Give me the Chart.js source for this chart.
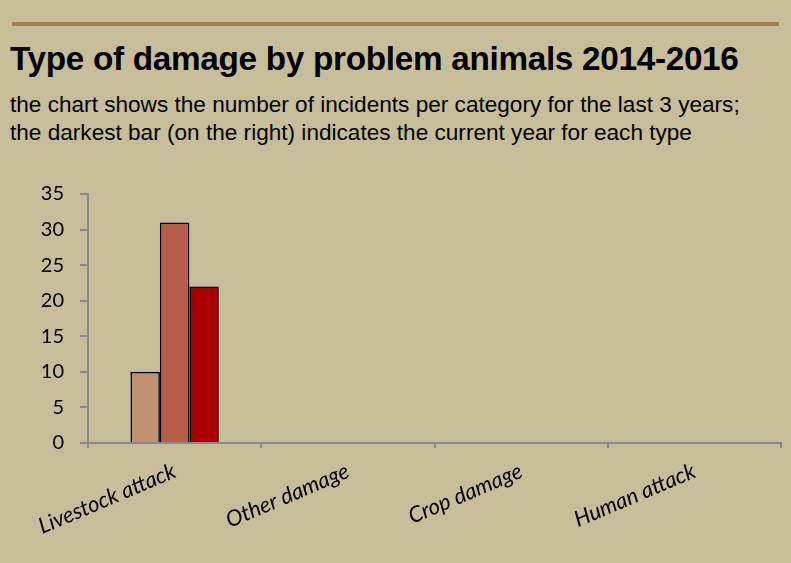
<!DOCTYPE html>
<html>
<head>
<meta charset="utf-8">
<script src="https://cdn.jsdelivr.net/npm/chart.js@4.4.1/dist/chart.umd.min.js"></script>
<style>
  html, body { margin: 0; padding: 0; }
  body { width: 791px; height: 563px; background: #C6BE98; position: relative; overflow: hidden; }
  .rule { position: absolute; left: 12px; top: 22px; width: 767px; height: 4px; background: #A07D55; }
  .title { position: absolute; left: 10px; top: 39px; margin: 0; font: bold 33.3px "Liberation Sans", Arial, sans-serif; line-height: 40px; color: #000; white-space: nowrap; letter-spacing: -0.3px; }
  .sub { position: absolute; left: 10px; top: 91px; margin: 0; font: 22.6px "Liberation Sans", Arial, sans-serif; line-height: 28px; color: #000; white-space: nowrap; }
  #wrap { position: absolute; left: 0; top: 0; width: 791px; height: 563px; }
</style>
</head>
<body>
<div class="rule"></div>
<h1 class="title">Type of damage by problem animals 2014-2016</h1>
<p class="sub">the chart shows the number of incidents per category for the last 3 years;<br>the darkest bar (on the right) indicates the current year for each type</p>
<div id="wrap"><canvas id="chart" width="791" height="563"></canvas></div>
<script>
// damage categories along the x axis
const categories = ['Livestock attack', 'Other damage', 'Crop damage', 'Human attack'];
// incidents per year, one array per year
const years = ['2014', '2015', '2016'];
const incidents2014 = [10, 0, 0, 0];
const incidents2015 = [31, 0, 0, 0];
const incidents2016 = [22, 0, 0, 0];
// value axis range
const yMin = 0;
const yMax = 35;
const yStep = 5;

const yearColors = ['#C19173', '#B75E4B', '#AA0000'];
const series = [incidents2014, incidents2015, incidents2016];

new Chart(document.getElementById('chart'), {
  type: 'bar',
  data: {
    labels: categories,
    datasets: series.map((values, i) => ({
      label: years[i],
      data: values,
      backgroundColor: yearColors[i],
      borderColor: '#000',
      borderWidth: 1.6,
      borderSkipped: 'start',
      categoryPercentage: 0.51,
      barPercentage: 1.0
    }))
  },
  options: {
    responsive: false,
    animation: false,
    layout: { padding: { top: 194, right: 10, left: 0, bottom: 0 } },
    plugins: { legend: { display: false }, tooltip: { enabled: false } },
    scales: {
      x: {
        grid: { display: true, drawOnChartArea: false, drawTicks: true, tickLength: 5, color: '#8A8A8A', lineWidth: 2, offset: true },
        border: { display: true, color: '#8A8A8A', width: 2 },
        ticks: {
          color: '#000',
          font: { family: 'Lato', size: 22, style: 'italic' },
          minRotation: 23, maxRotation: 23,
          padding: 10,
          autoSkip: false
        },
        afterFit: (s) => { s.height = 120; }
      },
      y: {
        min: yMin, max: yMax,
        grid: { display: true, drawOnChartArea: false, drawTicks: true, tickLength: 8, color: '#8A8A8A', lineWidth: 2 },
        border: { display: true, color: '#8A8A8A', width: 2 },
        ticks: {
          stepSize: yStep,
          color: '#000',
          font: { family: 'Lato', size: 20 },
          padding: 16
        },
        afterFit: (s) => { s.width = 88; }
      }
    }
  }
});
</script>
</body>
</html>
